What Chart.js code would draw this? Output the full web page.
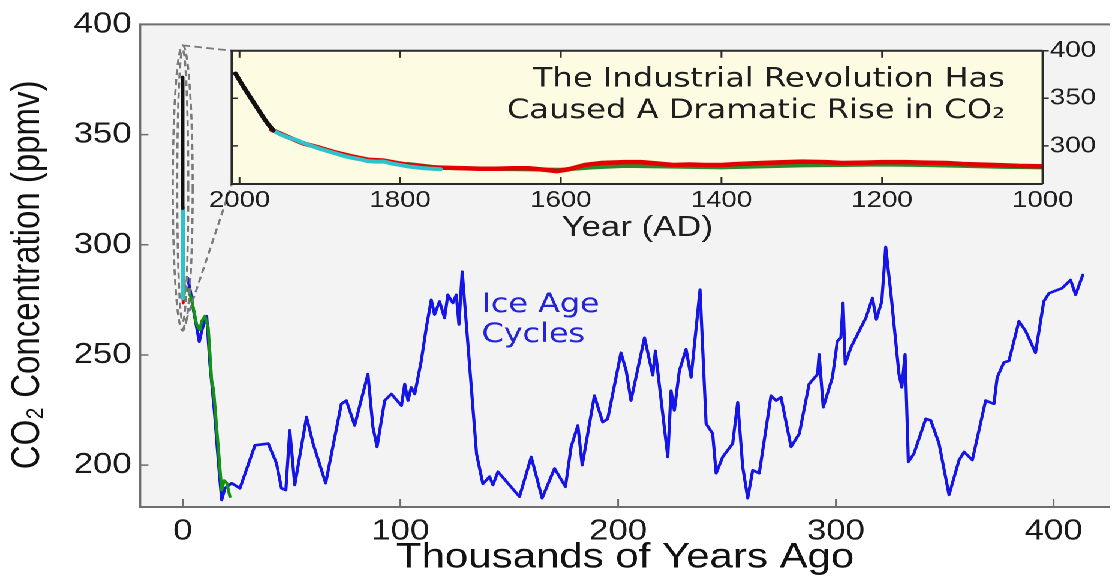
<!DOCTYPE html>
<html><head><meta charset="utf-8">
<script src="https://cdn.jsdelivr.net/npm/chart.js@4.4.1/dist/chart.umd.min.js"></script>
<style>
html,body{margin:0;padding:0;background:#fff;width:1112px;height:579px;overflow:hidden}
#wrap{position:absolute;left:0;top:0;width:927px;height:579px;transform:scaleX(1.19957);transform-origin:0 0}
#mainBox{position:absolute;left:0;top:0;width:927px;height:579px}
#insetBox{position:absolute;left:160px;top:20px;width:767px;height:230px}
</style></head><body>
<div id="wrap"><div id="mainBox"><canvas id="main"></canvas></div><div id="insetBox"><canvas id="inset"></canvas></div></div>
<script>
// ---------- data ----------
// Vostok ice core, thousands of years ago / ppmv
const vostokAge = [2.3,3.5,4.9,6.5,7.6,8.7,10.2,11,12.5,14.5,16.5,17.9,19.4,22.5,26.3,33.2,39.3,43.1,45.4,47.4,49.2,51.5,56.9,59.9,65.7,72.9,75.2,79,85.1,87.4,89.3,92.8,95.9,100.5,102,103.5,105,106.6,109.6,111.9,114.2,115.7,118,120.3,121.8,124.1,125.7,126.9,128.4,135,137.9,141,142.5,144.8,154.7,160.1,165.1,170.8,175.8,178.4,181.5,183.5,189.1,192.9,195.2,201.3,203.7,205.9,212.1,215.9,217.1,222.8,224.3,225.8,228.1,231.2,233.5,237.6,240.4,243.4,245,248,252.6,254.9,257.2,259.5,261.8,264.8,270.2,272.5,274.8,279.4,283.2,287.7,291.6,292.3,294.2,298.4,300.7,302.3,303.3,304.3,306.9,310.7,313.8,316.8,318.6,321.1,322.9,324.5,325.2,329,330.3,331.8,333.3,335.9,341.3,343.6,347.4,352,356.6,358.9,362.7,368.8,372.6,374.1,377.2,379.5,384.1,387.2,391.7,395.5,397.9,403.9,407.8,410.1,413.4];
const vostokCO2 = [284.8,279,270.5,262,256,260.8,266,267.6,245.8,225,200,184.2,189.5,191.8,189.5,209,209.8,200.8,189.5,188.7,215.8,191,221.8,209.8,191.8,227.8,229.3,218,241.3,217.3,208.3,229.3,232.3,227,236.8,229.3,235.3,232.3,247.3,262.3,275,268.3,274.3,266.8,277.3,273.6,277.3,263.8,287.8,205,191.5,194.8,191,197,185.7,203.7,185,198.5,190.2,208.3,218,200,231.5,219.5,221,251,242.8,229.3,257.8,240.8,251.8,203.7,233.8,224.8,242.8,252.6,239.8,279.6,218.8,214.3,196.3,203.7,209.8,228.5,199.2,185,197.7,196.3,231.5,229.3,230.8,208.3,214.3,236.8,241.3,250.3,226.3,239.8,256.3,257.8,273.6,245.8,253.3,260.8,266.8,275.8,266.1,274.3,299,284.8,278.8,241.3,235.3,250.3,201.5,205.3,221,220.3,209.8,186.5,202.3,206,202.3,229.3,227.8,239.8,246.6,247.3,265.3,260.8,251,274.3,278,280.3,284,277.3,286.3];
// second ice core (green), last deglaciation
const greenAge = [1.2,2.6,4.1,6.4,7.9,8.7,10.2,11.7,13.3,14.2,16,17.9,19,20.2,21.7];
const greenCO2 = [281,279.5,275,263.8,261.5,265.3,267.6,262.3,238.3,234,212,188.7,193,192,185.7];
// last millennium, year AD / ppmv
const insetBlackYear = [2005,2000,1995,1990,1985,1980,1975,1970,1965,1960,1958];
const insetBlackCO2  = [376,369,362,355.5,349,342.5,336,329.5,323.5,318.5,316.5];
const insetCyanYear = [1958,1950,1940,1930,1920,1910,1900,1890,1880,1870,1860,1850,1840,1830,1820,1810,1800,1790,1780,1770,1760,1750];
const insetCyanCO2  = [316.5,312.5,309,306.5,303,300,297,294.5,292,289.5,287.5,286,284,283.5,283.5,281.5,280,278.5,277.5,276.5,276,275.5];
const insetRedYear = [1960,1940,1920,1900,1880,1860,1840,1820,1800,1780,1760,1740,1720,1700,1680,1660,1640,1620,1605,1590,1570,1550,1520,1500,1480,1460,1440,1420,1400,1380,1350,1320,1300,1270,1250,1220,1200,1170,1150,1120,1100,1060,1030,1000];
const insetRedCO2  = [317,309.5,302.5,298,293,289,285.5,284.5,281.5,279,277.5,277,276.5,276,276,276.5,276.5,275,273.5,275.5,280,282,283,283,281.5,280,280.5,280,280,281,282,283,283.5,283,282,282.5,283,283,282.5,282,281,280,279,278.5];
const insetGreenYear = [1790,1770,1750,1720,1700,1650,1600,1560,1520,1480,1440,1400,1350,1300,1250,1200,1150,1100,1050,1000];
const insetGreenCO2  = [281,279,277,276.5,276,275.5,275,277.5,279,278.5,278,277.5,278.5,279.5,280,280.5,280,279,278,277.5];
// tick labels
const mainXTicks = [0,100,200,300,400];
const mainYTicks = [200,250,300,350,400];
const insetXTicks = [2000,1800,1600,1400,1200,1000];
const insetYTicks = [300,350,400];
// texts
const mainXTitle = 'Thousands of Years Ago';
const mainYTitle = 'CO\u2082 Concentration (ppmv)  ';
const insetXTitle = 'Year (AD)';
const insetNote = ['The Industrial Revolution Has', 'Caused A Dramatic Rise in CO\u2082'];
const iceAgeNote = ['Ice Age', 'Cycles'];

// ---------- helpers ----------
const zip = (xs, ys) => xs.map((x, i) => ({x: x, y: ys[i]}));
const toKyr = yr => (1950 - yr) / 1000;
const kyrOf = years => years.map(toKyr);
const FAM = "'Liberation Sans', 'DejaVu Sans', Arial, sans-serif";
const FAM2 = "'DejaVu Sans', Verdana, sans-serif";
const BLUE = '#1515e8', GREEN = '#129312', GREEN2 = '#2a8a2a', CYAN = '#2ec3cb', RED = '#e30000', BLACK = '#111111';
Chart.defaults.font.family = FAM;

const frameTicks = {
  id: 'frameTicks',
  beforeDraw(chart, args, o) {
    const a = chart.chartArea, ctx = chart.ctx;
    ctx.save(); ctx.fillStyle = o.bg; ctx.fillRect(a.left, a.top, a.right - a.left, a.bottom - a.top); ctx.restore();
  },
  afterDatasetsDraw(chart, args, o) {
    const a = chart.chartArea, ctx = chart.ctx, xs = chart.scales.x, ys = chart.scales.y;
    ctx.save();
    ctx.strokeStyle = o.tickColor; ctx.lineWidth = o.tickWidth;
    ctx.beginPath();
    xs.ticks.forEach(t => { const px = xs.getPixelForValue(t.value);
      if (o.xBottomIn) { ctx.moveTo(px, a.bottom); ctx.lineTo(px, a.bottom - o.xBottomIn); }
      if (o.xTopIn) { ctx.moveTo(px, a.top); ctx.lineTo(px, a.top + o.xTopIn); } });
    ys.ticks.forEach(t => { const py = ys.getPixelForValue(t.value);
      if (o.yLeftIn) { ctx.moveTo(a.left, py); ctx.lineTo(a.left + o.yLeftIn, py); }
      if (o.yRightOut) { ctx.moveTo(a.right, py); ctx.lineTo(a.right + o.yRightOut, py); } });
    ctx.stroke();
    ctx.strokeStyle = o.color; ctx.lineWidth = o.width;
    ctx.beginPath();
    if (o.sides.includes('t')) { ctx.moveTo(a.left, a.top); ctx.lineTo(a.right, a.top); }
    if (o.sides.includes('r')) { ctx.moveTo(a.right, a.top); ctx.lineTo(a.right, a.bottom); }
    if (o.sides.includes('b')) { ctx.moveTo(a.left, a.bottom); ctx.lineTo(a.right, a.bottom); }
    if (o.sides.includes('l')) { ctx.moveTo(a.left, a.top - o.width / 2); ctx.lineTo(a.left, a.bottom + o.width / 2); }
    ctx.stroke();
    ctx.restore();
  }
};

const notes = {
  id: 'notes',
  afterDatasetsDraw(chart, args, o) {
    if (!o.lines) return;
    const ctx = chart.ctx, xs = chart.scales.x, ys = chart.scales.y;
    const x = xs.getPixelForValue(o.at[0]), y = ys.getPixelForValue(o.at[1]);
    ctx.save();
    ctx.font = o.size + 'px ' + o.family; ctx.fillStyle = o.color; ctx.textAlign = o.align; ctx.textBaseline = 'alphabetic';
    o.lines.forEach((t, i) => ctx.fillText(t, x, y + i * o.lineGap));
    ctx.restore();
  }
};

// ---------- inset chart ----------
function lineSet(label, data, color, width) {
  return {label: label, data: data, borderColor: color, backgroundColor: color, borderWidth: width, showLine: true,
          pointRadius: 0, pointHoverRadius: 0, borderJoinStyle: 'round', borderCapStyle: 'round', tension: 0};
}
const insetChart = new Chart(document.getElementById('inset'), {
  type: 'scatter',
  data: {datasets: [
    lineSet('Mauna Loa', zip(insetBlackYear, insetBlackCO2), BLACK, 4),
    lineSet('Law Dome', zip(insetCyanYear, insetCyanCO2), CYAN, 4),
    lineSet('Ice core A', zip(insetRedYear, insetRedCO2), RED, 4.5),
    lineSet('Ice core B', zip(insetGreenYear, insetGreenCO2), GREEN2, 4)
  ]},
  plugins: [frameTicks, notes],
  options: {
    animation: false, responsive: true, maintainAspectRatio: false, devicePixelRatio: 2, events: [],
    layout: {padding: {left: 33.2, top: 30.7, right: 0, bottom: 0}},
    plugins: {
      legend: {display: false}, tooltip: {enabled: false},
      frameTicks: {bg: '#fdfce3', color: '#2a2a2a', width: 2, sides: 'trbl', tickColor: '#2a2a2a', tickWidth: 1.5,
                   xBottomIn: 7, xTopIn: 7, yLeftIn: 5, yRightOut: 5},
      notes: {lines: insetNote, at: [1047, 362.3], lineGap: 31.6, size: 26.8, family: FAM2, color: '#1e1e1e', align: 'right'}
    },
    scales: {
      x: {type: 'linear', position: 'bottom', reverse: true, min: 1000, max: 2009.6,
          afterBuildTicks: s => { s.ticks = insetXTicks.map(v => ({value: v})); },
          afterFit: s => { s.height = 66; },
          grid: {display: false, drawTicks: false}, border: {display: false},
          ticks: {padding: 3, color: '#1e1e1e', font: {size: 23}, maxRotation: 0, autoSkip: false, includeBounds: false, callback: v => String(v)},
          title: {display: true, text: insetXTitle, color: '#1e1e1e', font: {size: 29}, padding: {top: 0, bottom: 4.6}}},
      y: {type: 'linear', position: 'right', min: 260, max: 400,
          afterBuildTicks: s => { s.ticks = insetYTicks.map(v => ({value: v})); },
          afterFit: s => { s.width = 57.7; },
          grid: {display: false, drawTicks: false}, border: {display: false},
          ticks: {padding: 6, color: '#1e1e1e', font: {size: 23}, autoSkip: false, includeBounds: false, callback: v => String(v)}}
    }
  }
});

// ---------- main chart ----------
const zoomOutline = {
  id: 'zoomOutline',
  afterDatasetsDraw(chart, args, o) {
    const ctx = chart.ctx, xs = chart.scales.x, ys = chart.scales.y;
    const box = document.getElementById('insetBox');
    const ia = insetChart.chartArea, offX = box.offsetLeft, offY = box.offsetTop;
    const cx = xs.getPixelForValue(o.center);
    ctx.save();
    ctx.strokeStyle = o.color; ctx.lineWidth = o.width; ctx.setLineDash(o.dash);
    o.loops.forEach(l => {
      const t = ys.getPixelForValue(l.top), b = ys.getPixelForValue(l.bottom);
      ctx.beginPath(); ctx.ellipse(cx, (t + b) / 2, l.rx, (b - t) / 2, 0, 0, Math.PI * 2); ctx.stroke();
    });
    const t0 = ys.getPixelForValue(o.loops[0].top), b0 = ys.getPixelForValue(o.loops[0].bottom);
    ctx.beginPath();
    ctx.moveTo(cx, t0); ctx.lineTo(ia.left + offX, ia.top + offY);
    ctx.moveTo(cx, b0); ctx.lineTo(ia.left + offX, ia.bottom + offY);
    ctx.stroke();
    ctx.restore();
  }
};

new Chart(document.getElementById('main'), {
  type: 'scatter',
  data: {datasets: [
    lineSet('Mauna Loa', zip(kyrOf(insetBlackYear), insetBlackCO2), BLACK, 3),
    lineSet('Law Dome', zip(kyrOf(insetCyanYear), insetCyanCO2), CYAN, 3),
    lineSet('Ice core A', zip(kyrOf(insetRedYear), insetRedCO2), RED, 2.5),
    lineSet('Ice core B', zip(kyrOf(insetGreenYear), insetGreenCO2), GREEN, 2.5),
    lineSet('Deglaciation core', zip(greenAge, greenCO2), GREEN, 2.6),
    lineSet('Vostok', zip(vostokAge, vostokCO2), BLUE, 2.6)
  ]},
  plugins: [frameTicks, notes, zoomOutline],
  options: {
    animation: false, responsive: true, maintainAspectRatio: false, devicePixelRatio: 2, events: [],
    layout: {padding: {left: 0, top: 20.7, right: 0, bottom: 0}},
    plugins: {
      legend: {display: false}, tooltip: {enabled: false},
      frameTicks: {bg: '#f3f3f3', color: '#6e6e6e', width: 2, sides: 'tbl', tickColor: '#6e6e6e', tickWidth: 1.5,
                   xBottomIn: 8, yLeftIn: 7},
      notes: {lines: iceAgeNote, at: [137.3, 269.6], lineGap: 30, size: 26.5, family: FAM2, color: '#2323d8', align: 'left'},
      zoomOutline: {center: 0, color: '#7a7a7a', width: 1.8, dash: [6, 4],
                    loops: [{top: 390.5, bottom: 261, rx: 8.3}, {top: 388.5, bottom: 265, rx: 4.6}]}
    },
    scales: {
      x: {type: 'linear', position: 'bottom', min: -19.6, max: 426,
          afterBuildTicks: s => { s.ticks = mainXTicks.map(v => ({value: v})); },
          afterFit: s => { s.height = 72; },
          grid: {display: false, drawTicks: false}, border: {display: false},
          ticks: {padding: 7, color: '#1a1a1a', font: {size: 29}, maxRotation: 0, autoSkip: false, includeBounds: false, callback: v => String(v)},
          title: {display: true, text: mainXTitle, color: '#111', font: {size: 35, lineHeight: 1.2}, padding: {top: 0, bottom: 0}}},
      y: {type: 'linear', position: 'left', min: 181, max: 400,
          afterBuildTicks: s => { s.ticks = mainYTicks.map(v => ({value: v})); },
          afterFit: s => { s.width = 116.7; },
          grid: {display: false, drawTicks: false}, border: {display: false},
          ticks: {padding: 7, color: '#1a1a1a', font: {size: 29}, autoSkip: false, includeBounds: false, callback: v => String(v)},
          title: {display: true, text: mainYTitle, color: '#111', font: {size: 33, lineHeight: 1.0}, padding: {top: 7, bottom: 0}}}
    }
  }
});
</script>
</body></html>
